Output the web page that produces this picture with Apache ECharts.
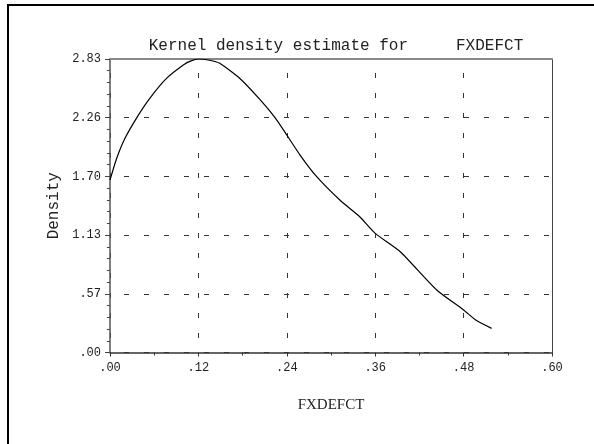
<!DOCTYPE html>
<html>
<head>
<meta charset="utf-8">
<script src="https://cdn.jsdelivr.net/npm/echarts@6/dist/echarts.min.js"></script>
<style>
html,body{margin:0;padding:0;background:#fff;}
#chart{width:594px;height:444px;}
</style>
</head>
<body>
<div id="chart"></div>
<script>
// Data
var xValues = [0, 0.009, 0.020, 0.036, 0.054, 0.077, 0.100, 0.110, 0.120, 0.135, 0.149, 0.176, 0.204, 0.224, 0.240, 0.258, 0.280, 0.312, 0.339, 0.360, 0.394, 0.4435, 0.480, 0.497, 0.518];
var densityValues = [1.663, 1.870, 2.060, 2.260, 2.450, 2.645, 2.775, 2.812, 2.830, 2.818, 2.788, 2.644, 2.435, 2.264, 2.097, 1.904, 1.700, 1.470, 1.309, 1.149, 0.972, 0.603, 0.410, 0.310, 0.233];
var yTickValues = [0, 0.566, 1.132, 1.698, 2.264, 2.83];
var yTickLabels = ['.00', '.57', '1.13', '1.70', '2.26', '2.83'];
var xTickValues = [0, 0.12, 0.24, 0.36, 0.48, 0.60];
var xTickLabels = ['.00', '.12', '.24', '.36', '.48', '.60'];
var titleText = 'Kernel density estimate for     FXDEFCT';
var xName = 'FXDEFCT';
var yName = 'Density';

function lookup(vals, labels, v) {
  var best = 0, bd = Infinity;
  for (var i = 0; i < vals.length; i++) {
    var d = Math.abs(vals[i] - v);
    if (d < bd) { bd = d; best = i; }
  }
  return labels[best];
}

var points = xValues.map(function (x, i) { return [x, densityValues[i]]; });
var mono = 'Liberation Mono';
var txt = '#222';

var chart = echarts.init(document.getElementById('chart'), null, {renderer: 'canvas'});
chart.setOption({
  animation: false,
  backgroundColor: '#fff',
  title: {
    text: titleText,
    left: 331,
    top: 33,
    textAlign: 'center',
    textStyle: {fontFamily: mono, fontSize: 16, fontWeight: 'normal', color: txt}
  },
  graphic: [{
    type: 'rect',
    shape: {x: 8, y: 5, width: 700, height: 600},
    style: {fill: 'none', stroke: '#000', lineWidth: 2},
    silent: true
  }],
  grid: {left: 110, right: 42, top: 59, bottom: 91.5, containLabel: false},
  xAxis: [{
    type: 'value',
    min: 0, max: 0.6, interval: 0.12,
    name: xName,
    nameLocation: 'middle',
    nameGap: 45,
    nameTextStyle: {fontFamily: 'Liberation Serif', fontSize: 15, color: txt},
    axisLine: {show: true, onZero: false, lineStyle: {color: '#333', width: 1.5}},
    axisTick: {show: true, length: 4, lineStyle: {color: '#333'}},
    minorTick: {show: true, splitNumber: 2, length: 3, lineStyle: {color: '#333'}},
    axisLabel: {
      margin: 9,
      fontFamily: mono, fontSize: 12, color: txt,
      formatter: function (v) { return lookup(xTickValues, xTickLabels, v); }
    },
    splitLine: {show: true, lineStyle: {color: '#333', width: 1, type: [5, 15], dashOffset: 6}}
  }, {
    type: 'value',
    position: 'top',
    min: 0, max: 0.6, interval: 0.12,
    axisLine: {show: true, onZero: false, lineStyle: {color: '#888', width: 2}},
    axisTick: {show: false},
    axisLabel: {show: false},
    splitLine: {show: false}
  }],
  yAxis: [{
    type: 'value',
    min: 0, max: 2.83, interval: 0.566,
    name: yName,
    nameLocation: 'middle',
    nameGap: 48,
    nameRotate: 90,
    nameTextStyle: {fontFamily: mono, fontSize: 16, color: txt},
    axisLine: {show: true, onZero: false, lineStyle: {color: '#555', width: 1.5}},
    axisTick: {show: true, length: 5, lineStyle: {color: '#444'}},
    minorTick: {show: true, splitNumber: 5, length: 3, lineStyle: {color: '#444'}},
    axisLabel: {
      margin: 9,
      fontFamily: mono, fontSize: 12, color: txt,
      formatter: function (v) { return lookup(yTickValues, yTickLabels, v); }
    },
    splitLine: {show: true, lineStyle: {color: '#333', width: 1, type: [5, 15], dashOffset: 6}}
  }, {
    type: 'value',
    position: 'right',
    min: 0, max: 2.83, interval: 0.566,
    axisLine: {show: true, onZero: false, lineStyle: {color: '#444', width: 1}},
    axisTick: {show: false},
    axisLabel: {show: false},
    splitLine: {show: false}
  }],
  series: [{
    type: 'line',
    data: points,
    showSymbol: false,
    smooth: 0.2,
    lineStyle: {color: '#000', width: 1.2},
    itemStyle: {color: '#000'}
  }]
});
</script>
</body>
</html>
